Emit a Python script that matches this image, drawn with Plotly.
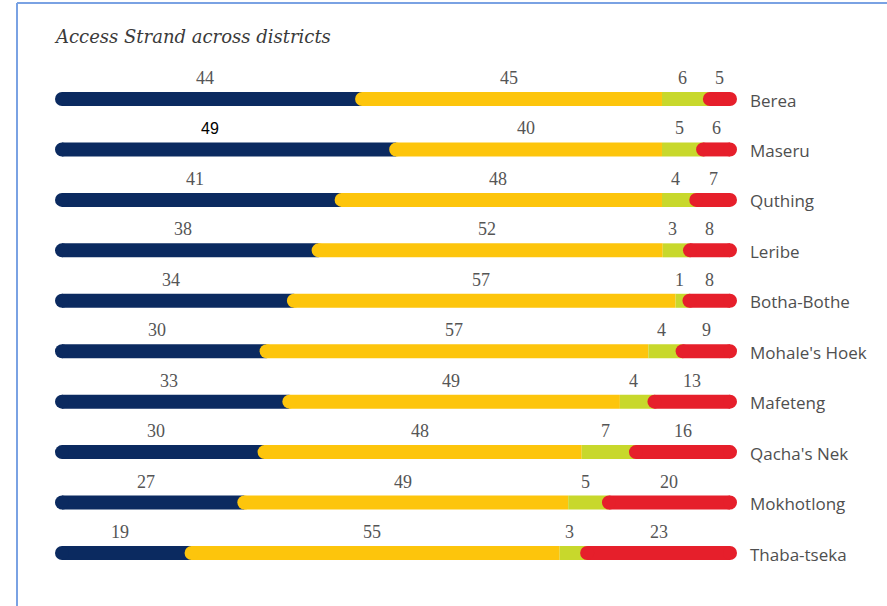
import plotly.graph_objects as go

# ---------------- data ----------------
districts = ["Berea", "Maseru", "Quthing", "Leribe", "Botha-Bothe",
             "Mohale's Hoek", "Mafeteng", "Qacha's Nek", "Mokhotlong", "Thaba-tseka"]
series_1 = [44, 49, 41, 38, 34, 30, 33, 30, 27, 19]   # dark blue
series_2 = [45, 40, 48, 52, 57, 57, 49, 48, 49, 55]   # yellow
series_3 = [6, 5, 4, 3, 1, 4, 4, 7, 5, 3]             # yellow-green
series_4 = [5, 6, 7, 8, 8, 9, 13, 16, 20, 23]         # red
title_text = "Access Strand across districts"

# ---------------- style ----------------
W, H = 887, 606
colors = ["#0b2a60", "#fdc50c", "#c8d82c", "#e61f2b"]
BAR_PX = 14
HALF = BAR_PX / 2
X_LEFT_PX, X_RIGHT_PX = 55, 737
px_per_unit = (X_RIGHT_PX - X_LEFT_PX) / 100.0
r = HALF / px_per_unit   # cap radius in data units

fig = go.Figure()
all_series = [series_1, series_2, series_3, series_4]

# segment boundaries (normalised to 100)
bounds = []
for i in range(len(districts)):
    vals = [s[i] for s in all_series]
    tot = sum(vals)
    c = [0.0]
    for v in vals:
        c.append(c[-1] + v / tot * 100.0)
    bounds.append(c)

shapes = []


def rect(x0, x1, y, color):
    shapes.append(dict(type="rect", xref="x", yref="y", x0=x0, x1=x1,
                       ysizemode="pixel", yanchor=y, y0=-HALF, y1=HALF,
                       fillcolor=color, line=dict(width=0), layer="above"))


def cap(x, y, color):
    shapes.append(dict(type="circle", xref="x", yref="y",
                       xsizemode="pixel", ysizemode="pixel", xanchor=x, yanchor=y,
                       x0=-HALF, x1=HALF, y0=-HALF, y1=HALF,
                       fillcolor=color, line=dict(width=0), layer="above"))


for i in range(len(districts)):
    b = bounds[i]
    # blue
    rect(b[0] + r, b[1] + r, i, colors[0]); cap(b[0] + r, i, colors[0])
    # yellow
    rect(b[1] + r, b[2], i, colors[1]); cap(b[1] + r, i, colors[1])
    # green
    rect(b[2], b[3] + r, i, colors[2])
    # red
    rect(b[3] + r, b[4] - r, i, colors[3]); cap(b[3] + r, i, colors[3]); cap(b[4] - r, i, colors[3])

# invisible trace to establish axes
fig.add_trace(go.Scatter(x=[0, 100], y=[0, len(districts) - 1], mode="markers",
                         marker=dict(opacity=0), hoverinfo="skip", showlegend=False))

annotations = []
num_font = dict(family="Liberation Serif, Times New Roman, serif", size=18, color="#555555")
for i, name in enumerate(districts):
    b = bounds[i]
    for k in range(4):
        mid = (b[k] + b[k + 1]) / 2
        val = all_series[k][i]
        font = num_font
        xshift = 0
        if name == "Maseru" and k == 0:
            font = dict(family="Liberation Sans, Arial, sans-serif", size=16, color="#000000")
            xshift = -12
        annotations.append(dict(x=mid, y=i, xref="x", yref="y", text=str(val),
                                showarrow=False, yshift=21, xshift=xshift,
                                font=font, xanchor="center", yanchor="middle"))
    annotations.append(dict(x=100, y=i, xref="x", yref="y", text=name,
                            showarrow=False, xanchor="left", yanchor="middle",
                            xshift=11, yshift=-1,
                            font=dict(family="Open Sans, Noto Sans, sans-serif", size=17, color="#4f4f4f")))

annotations.append(dict(x=52 / W, y=1 - 36 / H, xref="paper", yref="paper",
                        text=title_text, showarrow=False, xanchor="left", yanchor="middle",
                        font=dict(family="DejaVu Serif, Georgia, serif", size=18,
                                  color="#3a3a3a", style="italic")))

shapes += [
    dict(type="line", xref="paper", yref="paper", x0=17 / W, x1=17 / W, y0=0, y1=1 - 3 / H,
         line=dict(color="#7aa2e3", width=2)),
    dict(type="line", xref="paper", yref="paper", x0=17 / W, x1=1, y0=1 - 3 / H, y1=1 - 3 / H,
         line=dict(color="#7aa2e3", width=2)),
]

top_px, row_px = 99, (553 - 99) / 9
y_top = -top_px / row_px
y_bot = y_top + H / row_px

fig.update_layout(
    width=W, height=H, margin=dict(l=0, r=0, t=0, b=0),
    paper_bgcolor="white", plot_bgcolor="white",
    xaxis=dict(domain=[X_LEFT_PX / W, X_RIGHT_PX / W], range=[0, 100], visible=False, fixedrange=True),
    yaxis=dict(domain=[0, 1], range=[y_bot, y_top], visible=False, fixedrange=True),
    annotations=annotations, shapes=shapes, showlegend=False,
)

fig.write_html("out.html")
